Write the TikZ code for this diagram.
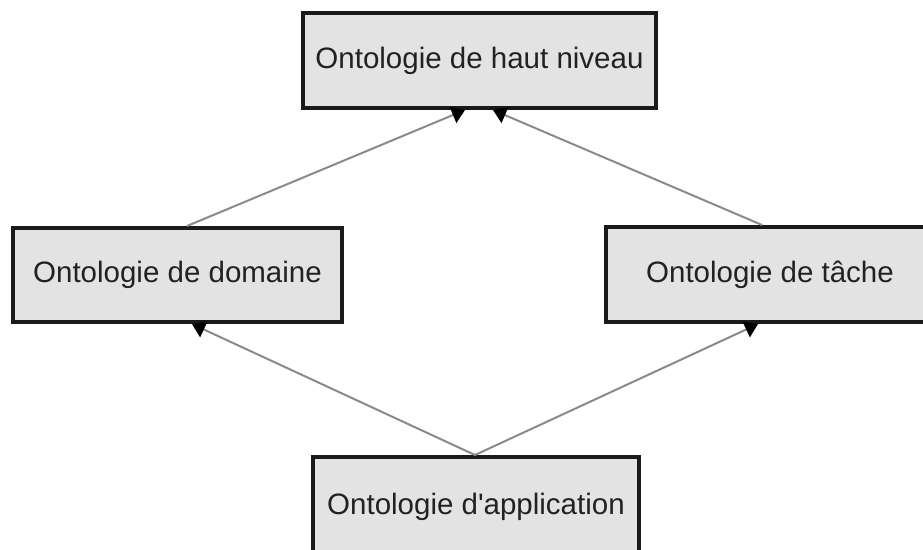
\documentclass[tikz,border=0pt]{standalone}
\usepackage{fontspec}
\setmainfont{Liberation Sans}
\usetikzlibrary{arrows.meta,calc}
\definecolor{boxfill}{HTML}{E3E3E3}
\definecolor{boxline}{HTML}{1A1A1A}
\definecolor{linkgray}{HTML}{8A8A8A}
\definecolor{labelink}{HTML}{222222}
\tikzset{
  levelbox/.style={draw=boxline, fill=boxfill, line width=4pt, rectangle,
    inner sep=0pt, text=labelink, font=\fontsize{29.5}{33}\selectfont},
  link/.style={draw=linkgray, line width=2pt,
    -{Triangle[length=13pt,width=17pt,color=black]}}
}
\begin{document}
\begin{tikzpicture}[x=1pt,y=-1pt]
  \useasboundingbox (0,0) rectangle (923,549);
  \clip (0,0) rectangle (923,549);
  % the four ontology levels
  \node[levelbox, minimum width=353pt, minimum height=95pt] (top) at (479.5,60.5) {Ontologie de haut niveau};
  \node[levelbox, minimum width=329pt, minimum height=94pt] (dom) at (177.5,275) {Ontologie de domaine};
  \node[levelbox, minimum width=328pt, minimum height=95pt] (task) at (770,274.5) {Ontologie de tâche};
  \node[levelbox, minimum width=326pt, minimum height=100pt] (app) at (476,507) {Ontologie d\textquotesingle application};
  % attachment points on the box borders
  \coordinate (topL) at ($(top.south)+(-14.5,0)$);
  \coordinate (topR) at ($(top.south)+(13.5,0)$);
  \coordinate (domN) at ($(dom.north)+(9.5,0)$);
  \coordinate (domS) at ($(dom.south)+(14.5,0)$);
  \coordinate (taskN) at ($(task.north)+(-8,0)$);
  \coordinate (taskS) at ($(task.south)+(-12,0)$);
  \coordinate (appN) at ($(app.north)+(-1,0)$);
  % specialisation links
  \draw[link] (domN) -- (topL);
  \draw[link] (taskN) -- (topR);
  \draw[link] (appN) -- (domS);
  \draw[link] (appN) -- (taskS);
\end{tikzpicture}
\end{document}
